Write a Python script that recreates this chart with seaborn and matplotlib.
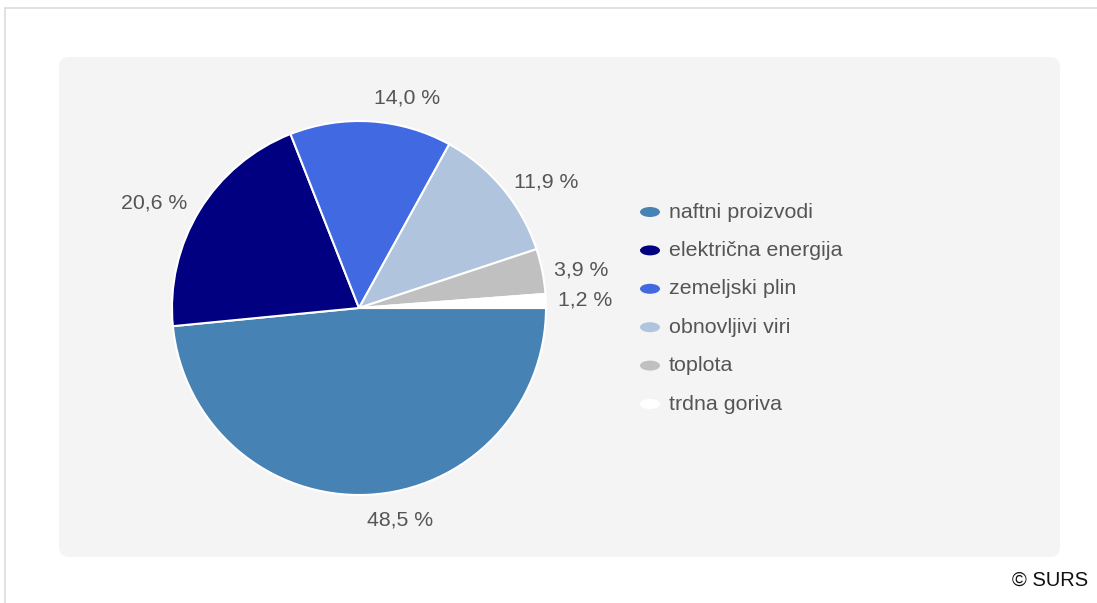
import matplotlib
matplotlib.use("Agg")
import matplotlib.pyplot as plt
import seaborn as sns
from matplotlib.patches import FancyBboxPatch, Ellipse, Rectangle

# ---- data ----
categories = ["naftni proizvodi", "električna energija", "zemeljski plin",
              "obnovljivi viri", "toplota", "trdna goriva"]
shares = [48.5, 20.6, 14.0, 11.9, 3.9, 1.2]
share_labels = ["48,5 %", "20,6 %", "14,0 %", "11,9 %", "3,9 %", "1,2 %"]
colors = ["#4682B4", "#000080", "#4169E1", "#B0C4DE", "#C0C0C0", "#FFFFFF"]
credit = "© SURS"

sns.set_style("white")
plt.rcParams['font.family'] = ['Liberation Sans', 'DejaVu Sans']
palette = sns.color_palette(colors)

W, H = 1097, 603
fig = plt.figure(figsize=(W / 100, H / 100), dpi=100)
ax = fig.add_axes([0, 0, 1, 1])


def Y(y):
    return H - y


# outer frame
ax.add_patch(Rectangle((4.5, -10), W + 10, Y(7.5) + 10, fill=False,
                       edgecolor="#dcdcdc", lw=1.2, zorder=0))
# gray rounded panel
ax.add_patch(FancyBboxPatch((59 + 10, Y(557) + 10), 1001 - 20, 500 - 20,
                            boxstyle="round,pad=10", fc="#f4f4f4", ec="none", zorder=0))

wedges, _ = ax.pie(shares, colors=palette, startangle=0, counterclock=False,
                   center=(359, Y(308)), radius=187, frame=True,
                   wedgeprops=dict(edgecolor="white", linewidth=1.5, zorder=2))

# percentage labels (layout positions)
label_pos = [(400, 520), (154, 203), (407, 98), (546, 182), (581, 270), (585, 300)]
txt_color = "#555555"
for lab, (x, y) in zip(share_labels, label_pos):
    ax.text(x, Y(y), lab, ha="center", va="center", fontsize=15.3, color=txt_color, zorder=3)

# legend
row_y0, row_dy = 212, 38.4
for i, (cat, col) in enumerate(zip(categories, palette)):
    yy = Y(row_y0 + i * row_dy)
    ax.add_patch(Ellipse((650, yy), 20, 10, fc=col, ec="none", zorder=3))
    ax.text(669, yy, cat, ha="left", va="center", fontsize=15.4, color=txt_color, zorder=3)

ax.text(1088, Y(580), credit, ha="right", va="center", fontsize=14.5, color="#111111")

ax.set_xlim(0, W)
ax.set_ylim(0, H)
ax.set_aspect("auto")
ax.axis("off")
fig.savefig("out.png", dpi=100, facecolor="white")
